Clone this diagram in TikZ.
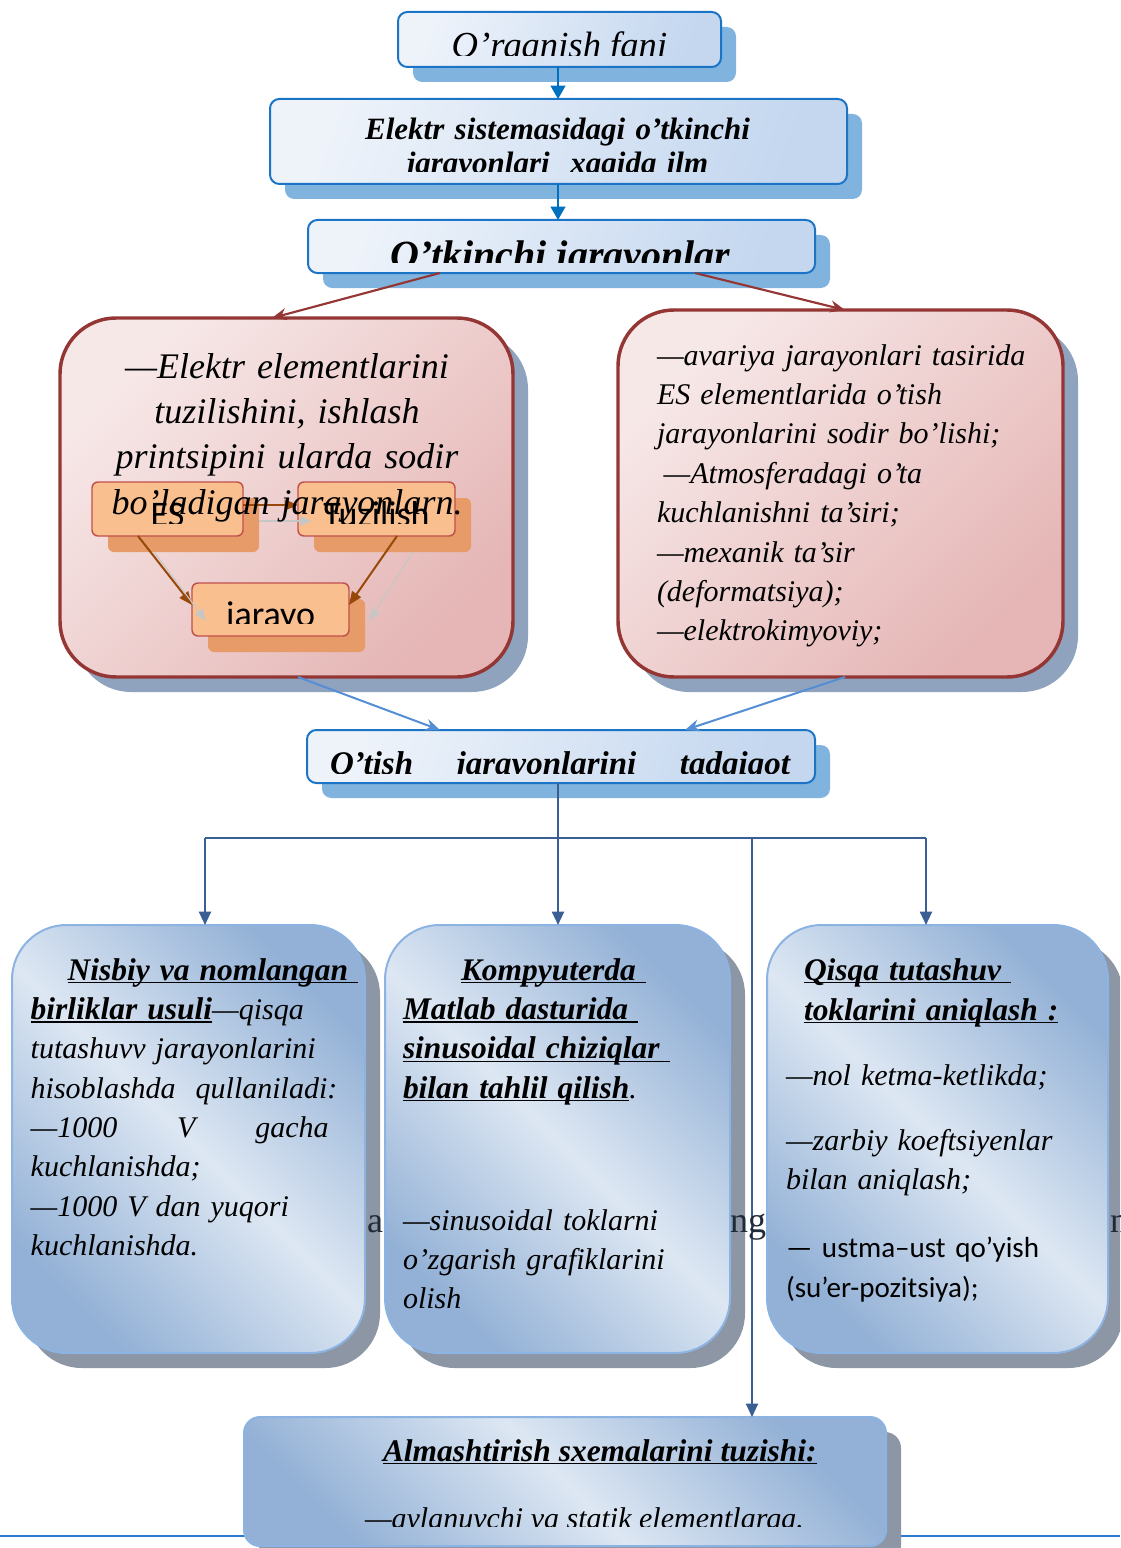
\documentclass[tikz,border=0pt]{standalone}
\usepackage{fontspec}
\setmainfont{Liberation Serif}
\newfontfamily\sansf{Carlito}
\usetikzlibrary{arrows.meta,shadows,calc}
\newcommand\ulx[1]{\setbox0=\hbox{#1}\leavevmode\rlap{\rule[-2.4pt]{\wd0}{0.9pt}}\box0}
\newcommand\fs[2]{\fontsize{#1}{#2}\selectfont}
\definecolor{hdrB}{HTML}{1B74C6}
\definecolor{hdrL}{HTML}{EEF3FA}
\definecolor{hdrR}{HTML}{C4D7EF}
\definecolor{hdrS}{HTML}{80B4DE}
\definecolor{pkB}{HTML}{943634}
\definecolor{pkL}{HTML}{F7E8E8}
\definecolor{pkR}{HTML}{E5B6B5}
\definecolor{pkS}{HTML}{8FA3BE}
\definecolor{orF}{HTML}{F9BF8F}
\definecolor{orB}{HTML}{C0504D}
\definecolor{orS}{HTML}{E69B68}
\definecolor{brn}{HTML}{984807}
\definecolor{blD}{HTML}{93B1D6}
\definecolor{blL}{HTML}{DDE7F3}
\definecolor{blB}{HTML}{8DB3E2}
\definecolor{blS}{HTML}{8C96A4}
\definecolor{treeC}{HTML}{3A5F95}
\definecolor{arrB}{HTML}{558ED5}
\definecolor{topA}{HTML}{0070C0}
\definecolor{stray}{HTML}{1F2A3A}
\definecolor{baseL}{HTML}{2A7AD0}
\begin{document}
\begin{tikzpicture}[x=0.75pt,y=-0.75pt,
  every node/.style={inner sep=0pt,outer sep=0pt},
  hdr/.style={draw=hdrB,line width=1.5pt,rounded corners=7pt,
    top color=hdrL,bottom color=hdrR,shading angle=70,
    drop shadow={shadow xshift=11.25pt,shadow yshift=-11.25pt,fill=hdrS,opacity=1}},
  pink/.style={draw=pkB,line width=2.6pt,rounded corners=42pt,
    top color=pkL,bottom color=pkR,shading angle=45,
    drop shadow={shadow xshift=11.25pt,shadow yshift=-11.25pt,fill=pkS,opacity=1}},
  orng/.style={draw=orB,line width=1.1pt,rounded corners=4.5pt,fill=orF,
    drop shadow={shadow xshift=12pt,shadow yshift=-12pt,fill=orS,opacity=1}},
  blu/.style={draw=blB,line width=1.5pt,rounded corners=41pt,
    top color=blD,bottom color=blD,middle color=blL,shading angle=-45,
    drop shadow={shadow xshift=11.25pt,shadow yshift=-11.25pt,fill=blS,opacity=1}},
  topArr/.style={draw=topA,line width=1.5pt,-{Triangle[length=10pt,width=11pt]}},
  redArr/.style={draw=pkB,line width=1.6pt,-{Stealth[length=11pt,width=9pt]}},
  bluArr/.style={draw=arrB,line width=1.5pt,-{Stealth[length=11pt,width=9pt]}},
  treeLn/.style={draw=treeC,line width=1.5pt},
  treeArr/.style={treeLn,-{Triangle[length=10pt,width=9pt]}},
  brnArr/.style={draw=brn,line width=1.5pt,-{Triangle[length=10pt,width=8pt]}},
  gryArr/.style={draw=gray!45,line width=0.8pt,-{Triangle[length=9pt,width=7pt]}},
  itx/.style={font=\fs{22.5}{29.5}\itshape,align=left,text width=330pt,anchor=base west}
]
\fill[white] (0,0) rectangle (1120,1548);
\clip (0,0) rectangle (1120,1548);

% bottom base line
\draw[baseL,line width=1.5pt] (0,1536) -- (1120,1536);

% header boxes
\node[hdr,minimum width=242.25pt,minimum height=41.25pt] (b1) at (559.5,39.5) {};
\node[hdr,minimum width=432.75pt,minimum height=63.75pt] (b2) at (558.5,141.5) {};
\node[hdr,minimum width=380.25pt,minimum height=39.75pt] (b3) at (561.5,246.5) {};
\begin{scope}
\clip (398,12) rectangle (721,55.5);
\node[font=\fs{27.5}{30}\itshape,anchor=base] (t1) at (559.5,58) {O’rganish fani};
\end{scope}
\begin{scope}
\clip (270,99) rectangle (847,172);
\node[font=\fs{23.25}{25.5}\bfseries\itshape,anchor=base,align=center,text width=420pt] (t2) at (557.5,140) {Elektr sistemasidagi o’tkinchi\\ jarayonlari\ \ xaqida ilm};
\end{scope}
\begin{scope}
\clip (308,220) rectangle (815,263);
\node[font=\fs{30}{32}\bfseries\itshape,anchor=base] (t3) at (560.5,268) {O’tkinchi jarayonlar};
\end{scope}
\draw[topArr] ($(b1.south west)+(160,0)$) -- ($(b2.north west)+(288,0)$);
\draw[topArr] ($(b2.south west)+(288,0)$) -- ($(b3.north west)+(250,0)$);

% pink boxes
\node[pink,minimum width=339.75pt,minimum height=269.25pt] (pL) at (286.5,497.5) {};
\node[pink,minimum width=333.75pt,minimum height=275.25pt] (pR) at (840.5,493.5) {};
\draw[redArr] ($(b3.south west)+(132,0)$) -- ($(pL.north west)+(212,0)$);
\draw[redArr] ($(b3.south west)+(387,0)$) -- ($(pR.north west)+(227,0)$);

% orange mini diagram
\node[orng,minimum width=113.25pt,minimum height=40.5pt] (es) at (167.5,509) {};
\node[orng,minimum width=117.75pt,minimum height=40.5pt] (tz) at (376.5,509) {};
\node[orng,minimum width=117.75pt,minimum height=39.75pt] (jy) at (270.5,609.5) {};
\draw[brnArr] ($(es.north east)+(0,23)$) -- ($(tz.north west)+(0,23)$);
\draw[brnArr] ($(es.south west)+(46,0)$) -- ($(jy.north west)+(0,22)$);
\draw[brnArr] ($(tz.south west)+(99,0)$) -- ($(jy.north east)+(0,22)$);
\draw[gryArr] ($(es.north east)+(16,39)$) -- ($(tz.north west)+(14,39)$);
\draw[gryArr] ($(es.south west)+(62,16)$) -- ($(jy.north west)+(14,38)$);
\draw[gryArr] ($(tz.south west)+(115,16)$) -- ($(jy.north east)+(20,38)$);
\begin{scope}
\clip (92,482) rectangle (243,523);
\node[font=\sansf\fs{27}{30},anchor=base] (tes) at (167.5,526) {ES};
\end{scope}
\begin{scope}
\clip (298,482) rectangle (455,523);
\node[font=\sansf\fs{27}{30},anchor=base] (ttz) at (376.5,526) {Tuzilish};
\end{scope}
\begin{scope}
\clip (192,583) rectangle (349,623);
\node[font=\sansf\fs{27}{30},anchor=base] (tjy) at (270.5,626) {jarayo};
\end{scope}

\node[font=\fs{27}{34.1}\itshape,align=center,text width=330pt,anchor=base] (tpL) at (287,378)
 {—Elektr elementlarini\\ tuzilishini, ishlash\\ printsipini ularda sodir\\ bo’ladigan jarayonlarn.};
\node[itx,font=\fs{22.5}{29.55}\itshape] (tpR) at (657,365)
 {—avariya jarayonlari tasirida\\ ES elementlarida o’tish\\ jarayonlarini sodir bo’lishi;\\ \hspace*{5pt}—Atmosferadagi o’ta\\ kuchlanishni ta’siri;\\ —mexanik ta’sir\\ (deformatsiya);\\ —elektrokimyoviy;};

% O'tish box
\node[hdr,minimum width=381pt,minimum height=39.75pt] (ot) at (561,756.5) {};
\begin{scope}
\clip (307,730) rectangle (815,773);
\node[font=\fs{24.75}{26}\bfseries\itshape,anchor=base west] (tot) at (330,774) {\makebox[345pt][s]{O’tish jarayonlarini tadqiqot}};
\end{scope}
\draw[bluArr] ($(pL.south west)+(238,0)$) -- ($(ot.north west)+(133,0)$);
\draw[bluArr] ($(pR.south west)+(227,0)$) -- ($(ot.north west)+(378,0)$);

% bottom boxes
\node[blu,minimum width=264.75pt,minimum height=321pt] (bL) at (188.5,1139) {};
\node[blu,minimum width=258.75pt,minimum height=321pt] (bM) at (557.5,1139) {};
\node[blu,minimum width=255.75pt,minimum height=321pt] (bR) at (937.5,1139) {};
\node[blu,rounded corners=12pt,minimum width=481.5pt,minimum height=96.75pt] (bB) at (565,1481.5) {};

% tree connectors
\coordinate (jn) at (558,838);
\coordinate (jl) at (205,838);
\coordinate (jr) at (926,838);
\coordinate (jx) at (752,838);
\draw[treeLn] ($(ot.south west)+(251,0)$) -- (jn);
\draw[treeLn] (jl) -- (jr);
\draw[treeArr] (jl) -- ($(bL.north west)+(193,0)$);
\draw[treeArr] (jn) -- ($(bM.north west)+(173,0)$);
\draw[treeArr] (jr) -- ($(bR.north west)+(159,0)$);
\draw[treeArr] (jx) -- ($(bB.north west)+(508,0)$);

% bottom texts
\node[itx] (tL) at (30.7,980)
 {\hspace*{27.75pt}\ulx{\fs{23.6}{29.5}\bfseries Nisbiy va nomlangan }\\
  \ulx{\fs{23.6}{29.5}\bfseries birliklar usuli}—qisqa\\
  tutashuvv jarayonlarini\\
  hisoblashda\ \ qullaniladi:\\
  \makebox[223.5pt][l]{—1000\hfill V\hfill gacha}\\
  kuchlanishda;\\
  —1000 V dan yuqori\\
  kuchlanishda.};
\node[itx] (tM1) at (403,980)
 {\hspace*{43.5pt}\ulx{\fs{23.6}{29.5}\bfseries Kompyuterda }\\
  \ulx{\fs{23.6}{29.5}\bfseries Matlab dasturida }\\
  \ulx{\fs{23.6}{29.5}\bfseries sinusoidal chiziqlar }\\
  \ulx{\fs{23.6}{29.5}\bfseries bilan tahlil qilish}.};
\node[itx,font=\fs{22.5}{29.6}\itshape] (tM2) at (403,1230)
 {—sinusoidal toklarni\\ o’zgarish grafiklarini\\ olish};
\node[itx,font=\fs{22.5}{30}\itshape] (tR1) at (804,980)
 {\ulx{\fs{23.6}{29.5}\bfseries Qisqa tutashuv }\\
  \ulx{\fs{23.6}{29.5}\bfseries toklarini aniqlash :}};
\node[itx] (tR2) at (786,1085) {—nol ketma-ketlikda;};
\node[itx] (tR3) at (786,1150) {—zarbiy koeftsiyenlar\\ bilan aniqlash;};
\node[itx,font=\sansf\fs{21.8}{30}] (tR4) at (786,1257) {— ustma–ust qo’yish\\ (su’er-pozitsiya);};

\begin{scope}
\clip (244,1417) rectangle (886,1526);
\node[font=\fs{23.6}{28}\itshape,anchor=base west] (tB1) at (383,1461) {\ulx{\bfseries Almashtirish sxemalarini tuzishi:}};
\node[font=\fs{22.5}{28}\itshape,anchor=base west] (tB2) at (365,1528) {—aylanuvchi va statik elementlarga.};
\end{scope}

% stray letters
\node[font=\fs{27}{30},text=stray,anchor=base west] (sa) at (367,1232) {a};
\node[font=\fs{27}{30},text=stray,anchor=base west] (sng) at (730,1232) {ng};
\node[font=\fs{27}{30},text=stray,anchor=base west] (sn) at (1110,1232) {n};
\end{tikzpicture}
\end{document}
